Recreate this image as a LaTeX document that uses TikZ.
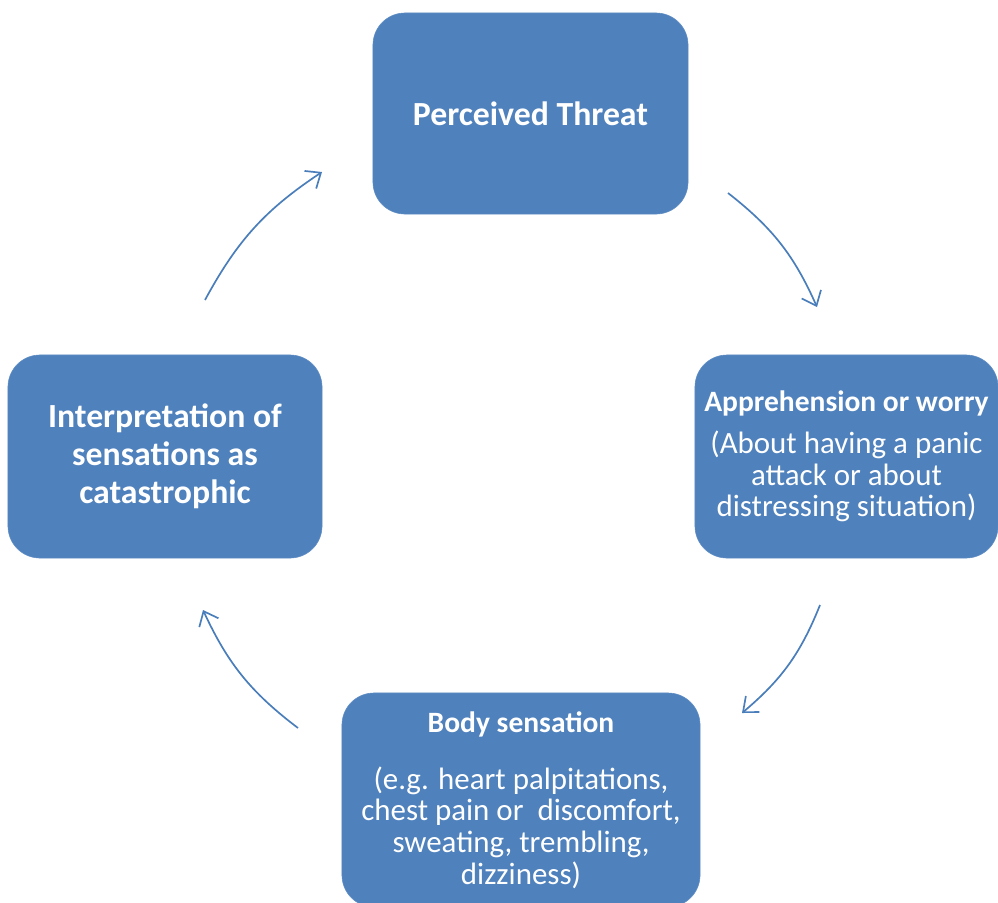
\documentclass[tikz,border=0pt]{standalone}
\usepackage{fontspec}
\setmainfont{Carlito}
\usetikzlibrary{arrows.meta, positioning}
\definecolor{boxblue}{HTML}{4F81BD}
\definecolor{arrowblue}{HTML}{4A7EBB}

\tikzset{
	cyclebox/.style={rectangle, rounded corners=0.8cm, fill=boxblue, draw=boxblue!90!white,
		text=white, align=center, inner sep=2pt},
	cyclearrow/.style={draw=arrowblue, line width=1.2pt, bend left=14,
		-{Straight Barb[length=9pt, width=15pt, line width=1.2pt]}}
}

\begin{document}
\begin{tikzpicture}[x=0.025cm, y=-0.025cm]
	\useasboundingbox (0,0) rectangle (998,902);
	
	% boxes of the cycle
	\node[cyclebox, minimum width=7.875cm, minimum height=5.025cm,
		font={\fontsize{24}{27}\selectfont\bfseries}] (threat) at (530.5,113.5) {Perceived Threat};
	
	\node[cyclebox, minimum width=7.575cm, minimum height=5.075cm,
		font={\fontsize{22}{22.5}\selectfont}] (worry) at (846.5,456.5)
		{{\fontsize{21}{22}\selectfont\bfseries Apprehension or worry}\\[7.5pt]
		 (About having a panic\\ attack or about\\ distressing situation)};
	
	\node[cyclebox, minimum width=8.95cm, minimum height=5.35cm,
		font={\fontsize{22}{22.5}\selectfont}] (body) at (521,800)
		{{\fontsize{21}{22}\selectfont\bfseries Body sensation}\\[18pt]
		 (e.g. heart palpitations,\\ chest pain or~ discomfort,\\ sweating, trembling,\\ dizziness)};
	
	\node[cyclebox, minimum width=7.85cm, minimum height=5.075cm,
		font={\fontsize{24}{27}\selectfont\bfseries}] (interp) at (165,456.5)
		{Interpretation of\\ sensations as\\ catastrophic};
	
	% arrows between the boxes
	\coordinate (a1s) at (728,193);
	\coordinate (a1e) at (817,307);
	\coordinate (a2s) at (820,605);
	\coordinate (a2e) at (742,713);
	\coordinate (a3s) at (298,728);
	\coordinate (a3e) at (203,610);
	\coordinate (a4s) at (205,300);
	\coordinate (a4e) at (322,172);
	
	\draw[cyclearrow] (a1s) to (a1e);
	\draw[cyclearrow] (a2s) to (a2e);
	\draw[cyclearrow] (a3s) to (a3e);
	\draw[cyclearrow] (a4s) to (a4e);
\end{tikzpicture}
\end{document}
